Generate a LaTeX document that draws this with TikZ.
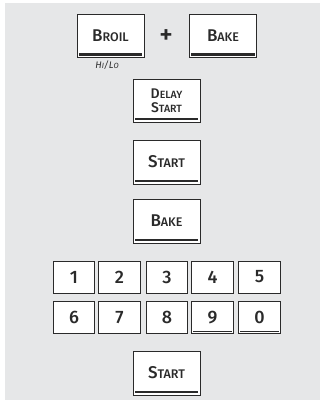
\documentclass[tikz,border=0pt]{standalone}
\usepackage{fontspec}
\setmainfont{Fira Sans}[BoldFont={Fira Sans Medium}, BoldItalicFont={Fira Sans Medium Italic}]
\newcommand\kcap[2]{{\fontsize{17}{17}\selectfont #1}{\fontsize{12.5}{12.5}\selectfont #2}}
\newcommand\kcapsm[2]{{\fontsize{14}{14}\selectfont #1}{\fontsize{10.5}{10.5}\selectfont #2}}
\definecolor{bg}{HTML}{E6E7E8}
\definecolor{ink}{HTML}{2A2A2A}
\tikzset{
  key/.style={draw=ink, line width=0.9pt, fill=white, minimum width=67pt,
    minimum height=43pt, inner sep=0pt, text=ink, align=center,
    font=\bfseries\fontsize{17}{13}\selectfont},
  barkey/.style={key, path picture={\fill[ink]
    ([xshift=1.6pt,yshift=1.8pt]path picture bounding box.south west) rectangle
    ([xshift=-1.6pt,yshift=4.4pt]path picture bounding box.south east);}},
  digit/.style={key, minimum width=41.5pt, minimum height=32pt,
    font=\bfseries\fontsize{18}{18}\selectfont},
  digitbar/.style={digit, path picture={\fill[ink]
    ([xshift=1.2pt,yshift=1.6pt]path picture bounding box.south west) rectangle
    ([xshift=-1.2pt,yshift=2.8pt]path picture bounding box.south east);}},
}
\begin{document}
\begin{tikzpicture}[x=1pt,y=-1pt]
\useasboundingbox (0,0) rectangle (320,400);
\fill[bg] (5,3) rectangle (320,400);
% top row
\node[barkey] (broil) at (110.5,36) {\kcap{B}{ROIL}};
\node[barkey] (bake1) at (223,36) {\kcap{B}{AKE}};
\node[text=ink, font=\bfseries\fontsize{26}{26}\selectfont] (plus) at (166,37) {+};
\node[text=ink, font=\itshape] (hilo) at (107,65)
  {{\fontsize{9.5}{9.5}\selectfont H}{\fontsize{7.5}{7.5}\selectfont I}{\fontsize{9.5}{9.5}\selectfont /L}{\fontsize{7.5}{7.5}\selectfont O}};
% column
\node[barkey, font=\bfseries\fontsize{14}{13}\selectfont] (delay) at (166.5,100.5)
  {\kcapsm{D}{ELAY}\\[1pt]\kcapsm{S}{TART}};
\node[barkey, minimum height=44pt] (start1) at (166.5,162) {\kcap{S}{TART}};
\node[barkey, minimum height=44pt] (bake2) at (166.5,221) {\kcap{B}{AKE}};
% digits
\node[digit] (d1) at (74,277) {1};
\node[digit] (d2) at (119.5,277) {2};
\node[digit] (d3) at (167,277) {3};
\node[digit] (d4) at (212.5,277) {4};
\node[digit] (d5) at (259.5,277) {5};
\node[digit] (d6) at (74,317.5) {6};
\node[digit] (d7) at (119.5,317.5) {7};
\node[digit] (d8) at (167,317.5) {8};
\node[digitbar] (d9) at (212.5,317.5) {9};
\node[digitbar] (d0) at (259.5,317.5) {0};
% final start
\node[barkey, minimum height=44pt] (start2) at (166.5,373) {\kcap{S}{TART}};
\end{tikzpicture}
\end{document}
